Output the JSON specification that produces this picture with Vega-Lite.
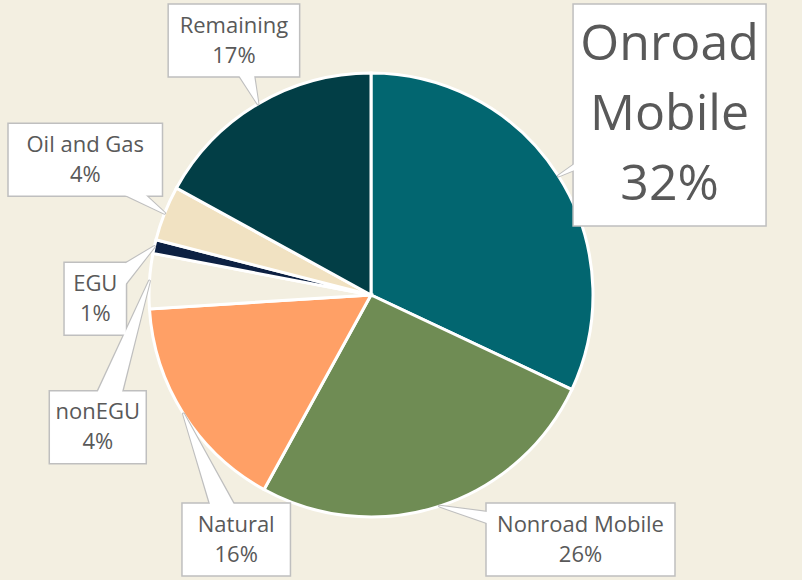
{
  "$schema": "https://vega.github.io/schema/vega-lite/v6.json",
  "width": 742,
  "height": 570,
  "padding": {"left": 0, "top": 10, "right": 60, "bottom": 0},
  "autosize": {"type": "none"},
  "background": "#f3efe1",
  "config": {"view": {"stroke": null}, "text": {"font": "Open Sans"}},
  "data": {
    "values": [
      {"source": "Onroad Mobile", "pct": 32},
      {"source": "Nonroad Mobile", "pct": 26},
      {"source": "Natural", "pct": 16},
      {"source": "nonEGU", "pct": 4},
      {"source": "EGU", "pct": 1},
      {"source": "Oil and Gas", "pct": 4},
      {"source": "Remaining", "pct": 17}
    ]
  },
  "transform": [
    {"window": [{"op": "row_number", "as": "idx"}]},
    {"joinaggregate": [{"op": "sum", "field": "pct", "as": "total"}, {"op": "max", "field": "pct", "as": "top"}]},
    {"calculate": "max(datum.pct, 8)", "as": "lw"},
    {"joinaggregate": [{"op": "sum", "field": "lw", "as": "ltotal"}]},
    {"window": [{"op": "sum", "field": "pct", "as": "cum"}, {"op": "sum", "field": "lw", "as": "lcum"}], "sort": [{"field": "idx"}], "frame": [null, 0]},
    {"calculate": "2*PI*(datum.cum - datum.pct/2)/datum.total", "as": "mid"},
    {"calculate": "2*PI*(datum.lcum - datum.lw/2)/datum.ltotal", "as": "la"},
    {"calculate": "datum.pct === datum.top", "as": "big"},
    {"calculate": "datum.big ? replace(datum.source, ' ', '\\n') + '\\n' + datum.pct + '%' : datum.source + '\\n' + datum.pct + '%'", "as": "label"},
    {"calculate": "datum.big ? 193 : length(datum.source)*11.5 + 28", "as": "bw"},
    {"calculate": "datum.big ? 222 : 73", "as": "bh"},
    {"calculate": "222*sin(datum.mid)", "as": "ex"},
    {"calculate": "222*cos(datum.mid)", "as": "ey"},
    {"calculate": "222 + 22 + abs(sin(datum.la))*datum.bw/2 + abs(cos(datum.la))*datum.bh/2", "as": "ld"},
    {"calculate": "clamp(datum.ld*sin(datum.la), -371 + datum.bw/2 + 8, 431 - datum.bw/2 - 2)", "as": "cx"},
    {"calculate": "clamp(datum.ld*cos(datum.la), -285 + datum.bh/2 + 4, 295 - datum.bh/2 - 4)", "as": "cy"},
    {"calculate": "datum.cx - datum.bw/2", "as": "bx1"},
    {"calculate": "datum.cx + datum.bw/2", "as": "bx2"},
    {"calculate": "datum.cy - datum.bh/2", "as": "by1"},
    {"calculate": "datum.cy + datum.bh/2", "as": "by2"}
  ],
  "layer": [
    {
      "mark": {"type": "arc", "outerRadius": 222, "stroke": "#ffffff", "strokeWidth": 3},
      "encoding": {
        "theta": {"field": "pct", "type": "quantitative", "stack": true},
        "order": {"field": "idx", "type": "quantitative"},
        "color": {
          "field": "source",
          "type": "nominal",
          "legend": null,
          "scale": {
            "domain": ["Onroad Mobile", "Nonroad Mobile", "Natural", "nonEGU", "EGU", "Oil and Gas", "Remaining"],
            "range": ["#026670", "#6f8c54", "#ffa066", "#f3efe1", "#0d2143", "#f1e2c2", "#023e46"]
          }
        }
      }
    },
    {
      "transform": [
        {"fold": ["ex", "cx"], "as": ["k", "px"]},
        {"calculate": "datum.k === 'ex' ? datum.ey : datum.cy", "as": "py"},
        {"calculate": "datum.k === 'ex' ? 3 : 33", "as": "tw"},
        {"calculate": "datum.k === 'ex' ? 0 : 1", "as": "o"}
      ],
      "mark": {"type": "trail", "color": "#bfbfbf"},
      "encoding": {
        "x": {"field": "px", "type": "quantitative", "scale": {"domain": [-371, 371], "nice": false, "zero": false}, "axis": null},
        "y": {"field": "py", "type": "quantitative", "scale": {"domain": [-285, 285], "nice": false, "zero": false}, "axis": null},
        "detail": {"field": "source", "type": "nominal"},
        "order": {"field": "o", "type": "quantitative"},
        "size": {"field": "tw", "type": "quantitative", "scale": null, "legend": null}
      }
    },
    {
      "mark": {"type": "rect", "fill": "#ffffff", "stroke": "#bfbfbf", "strokeWidth": 1.5},
      "encoding": {
        "x": {"field": "bx1", "type": "quantitative", "scale": {"domain": [-371, 371], "nice": false, "zero": false}, "axis": null},
        "x2": {"field": "bx2"},
        "y": {"field": "by1", "type": "quantitative", "scale": {"domain": [-285, 285], "nice": false, "zero": false}, "axis": null},
        "y2": {"field": "by2"}
      }
    },
    {
      "transform": [
        {"fold": ["ex", "cx"], "as": ["k", "px"]},
        {"calculate": "datum.k === 'ex' ? datum.ey : datum.cy", "as": "py"},
        {"calculate": "datum.k === 'ex' ? 0 : 30", "as": "tw"},
        {"calculate": "datum.k === 'ex' ? 0 : 1", "as": "o"}
      ],
      "mark": {"type": "trail", "color": "#ffffff"},
      "encoding": {
        "x": {"field": "px", "type": "quantitative", "scale": {"domain": [-371, 371], "nice": false, "zero": false}, "axis": null},
        "y": {"field": "py", "type": "quantitative", "scale": {"domain": [-285, 285], "nice": false, "zero": false}, "axis": null},
        "detail": {"field": "source", "type": "nominal"},
        "order": {"field": "o", "type": "quantitative"},
        "size": {"field": "tw", "type": "quantitative", "scale": null, "legend": null}
      }
    },
    {
      "transform": [{"filter": "!datum.big"}],
      "mark": {"type": "text", "fontSize": 22, "lineHeight": 30, "lineBreak": "\n", "align": "center", "baseline": "middle", "dy": -15, "color": "#595959"},
      "encoding": {
        "x": {"field": "cx", "type": "quantitative", "scale": {"domain": [-371, 371], "nice": false, "zero": false}, "axis": null},
        "y": {"field": "cy", "type": "quantitative", "scale": {"domain": [-285, 285], "nice": false, "zero": false}, "axis": null},
        "text": {"field": "label", "type": "nominal"}
      }
    },
    {
      "transform": [{"filter": "datum.big"}],
      "mark": {"type": "text", "fontSize": 50, "lineHeight": 70, "lineBreak": "\n", "align": "center", "baseline": "middle", "dy": -70, "color": "#595959"},
      "encoding": {
        "x": {"field": "cx", "type": "quantitative", "scale": {"domain": [-371, 371], "nice": false, "zero": false}, "axis": null},
        "y": {"field": "cy", "type": "quantitative", "scale": {"domain": [-285, 285], "nice": false, "zero": false}, "axis": null},
        "text": {"field": "label", "type": "nominal"}
      }
    }
  ]
}
